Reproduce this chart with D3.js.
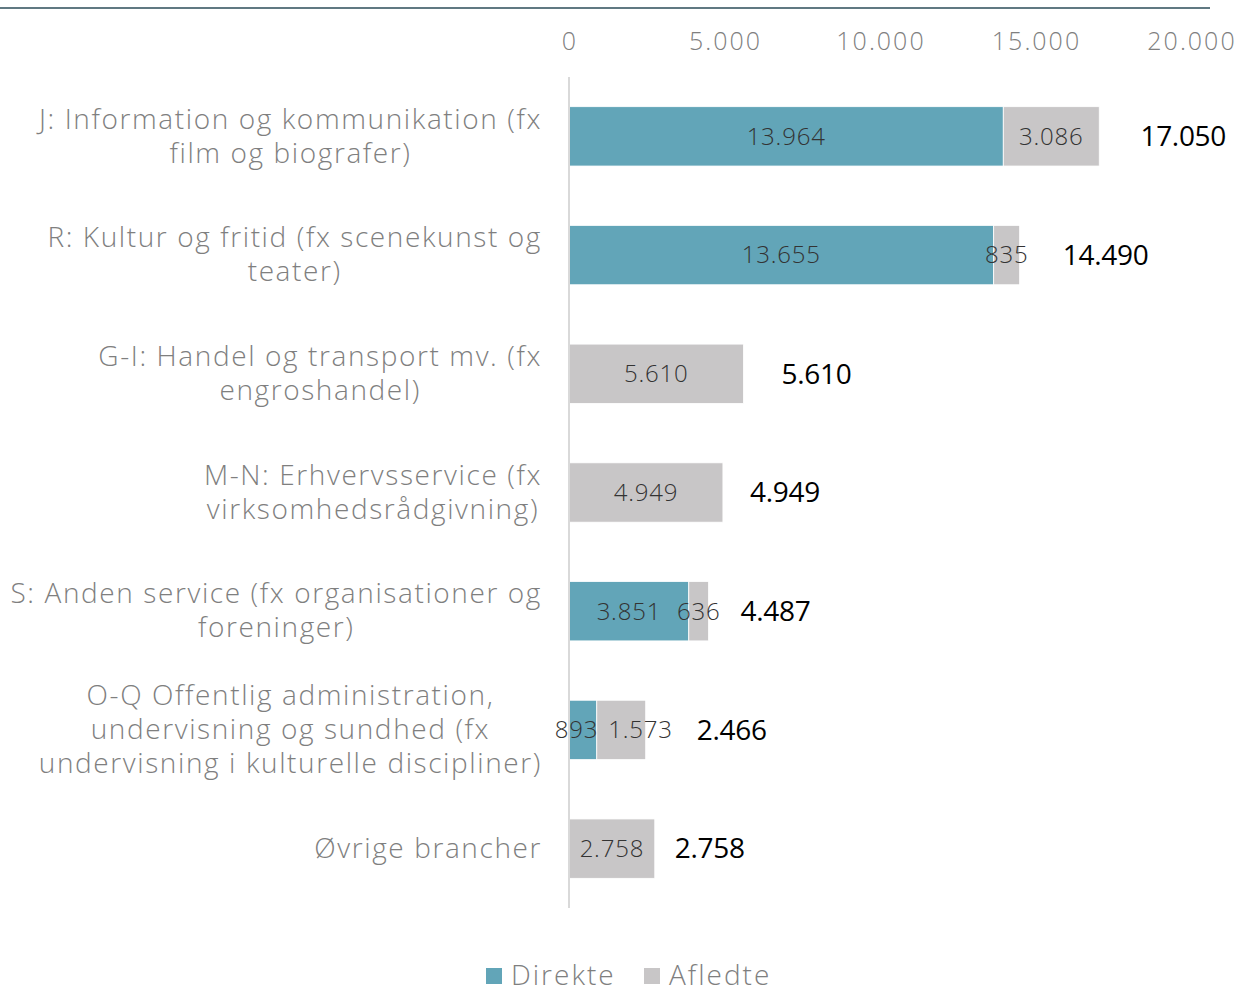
<!DOCTYPE html>
<html>
<head>
<meta charset="utf-8">
<script src="https://cdn.jsdelivr.net/npm/d3@7"></script>
<style>
  body { margin: 0; background: #fff; }
  svg { display: block; font-family: "Open Sans", sans-serif; }
</style>
</head>
<body>
<svg id="chart" width="1239" height="987"></svg>
<script>
// categories, each split into the lines it is written on
const categories = [
    ["J: Information og kommunikation (fx", "film og biografer)"],
    ["R: Kultur og fritid (fx scenekunst og", "teater)"],
    ["G-I: Handel og transport mv. (fx", "engroshandel)"],
    ["M-N: Erhvervsservice (fx", "virksomhedsrådgivning)"],
    ["S: Anden service (fx organisationer og", "foreninger)"],
    ["O-Q Offentlig administration,", "undervisning og sundhed (fx", "undervisning i kulturelle discipliner)"],
    ["Øvrige brancher"]
];
const direkte = [13964, 13655, 0, 0, 3851, 893, 0];
const afledte = [3086, 835, 5610, 4949, 636, 1573, 2758];
const xTicks = [0, 5000, 10000, 15000, 20000];
const seriesNames = ["Direkte", "Afledte"];
const colors = ["#62a5b8", "#c8c6c7"];

// where Excel put the total labels: gap from bar end to label centre
const totalGap = [84, 86, 73, 62, 67, 86, 55];

const fmt = v => d3.format(",")(v).replace(/,/g, ".");

const svg = d3.select("#chart");

const x = d3.scaleLinear().domain([0, 20000]).range([569, 1191]);
const y = d3.scaleBand().domain(d3.range(categories.length)).range([77, 908]).paddingInner(0.5).paddingOuter(0.25);

// top rule (title above is cut off)
svg.append("line")
    .attr("x1", 0).attr("x2", 1210).attr("y1", 8).attr("y2", 8)
    .attr("stroke", "#2b4d58").attr("stroke-width", 1.5);

// axis tick labels
svg.append("g").selectAll("text")
    .data(xTicks)
    .join("text")
    .attr("x", d => x(d) + 1)
    .attr("y", 50)
    .attr("text-anchor", "middle")
    .attr("font-size", 25)
    .attr("font-weight", 300)
    .attr("letter-spacing", 2)
    .attr("fill", "#7f7f7f")
    .text(d => fmt(d));

// stacked rows
const rows = categories.map((c, i) => ({ i: i, d: direkte[i], a: afledte[i], total: direkte[i] + afledte[i] }));

const bars = svg.append("g");
rows.forEach(r => {
    const yTop = y(r.i);
    const h = y.bandwidth();
    const segs = [
        { x0: 0, x1: r.d, v: r.d, c: colors[0] },
        { x0: r.d, x1: r.total, v: r.a, c: colors[1] }
    ].filter(s => s.v > 0);

    segs.forEach(s => {
        bars.append("rect")
            .attr("x", x(s.x0))
            .attr("y", yTop)
            .attr("width", x(s.x1) - x(s.x0))
            .attr("height", h)
            .attr("fill", s.c)
            .attr("stroke", "#fff")
            .attr("stroke-width", 0.8);
    });

    let labels = segs.map(s => bars.append("text")
        .attr("x", (x(s.x0) + x(s.x1)) / 2)
        .attr("y", yTop + h / 2)
        .attr("dy", "0.35em")
        .attr("text-anchor", "middle")
        .attr("font-size", 24)
        .attr("font-weight", 300)
        .attr("letter-spacing", 0.8)
        .attr("fill", "#333")
        .text(fmt(s.v)));

    // push the two segment labels apart when they collide
    if(labels.length === 2) {
        let a = labels[0].node().getBBox();
        let b = labels[1].node().getBBox();
        let overlap = (a.x + a.width + 10) - b.x;
        if(overlap > 0) {
            labels[0].attr("x", +labels[0].attr("x") - overlap * 0.25);
            labels[1].attr("x", +labels[1].attr("x") + overlap * 0.75);
        }
    }

    bars.append("text")
        .attr("x", x(r.total) + totalGap[r.i])
        .attr("y", yTop + h / 2)
        .attr("dy", "0.35em")
        .attr("text-anchor", "middle")
        .attr("font-size", 28)
        .attr("font-weight", 400)
        .attr("letter-spacing", -0.3)
        .attr("fill", "#000")
        .text(fmt(r.total));
});

// vertical axis line
svg.append("line")
    .attr("x1", x(0)).attr("x2", x(0)).attr("y1", 77).attr("y2", 908)
    .attr("stroke", "#d9d9d9").attr("stroke-width", 2);

// category labels: lines centred on each other, block right-aligned
const lineH = 34;
categories.forEach((lines, i) => {
    const g = svg.append("g");
    const cy = y(i) + y.bandwidth() / 2;
    const texts = lines.map((l, k) => g.append("text")
        .attr("y", cy + (k - (lines.length - 1) / 2) * lineH)
        .attr("dy", "0.33em")
        .attr("text-anchor", "middle")
        .attr("font-size", 28)
        .attr("font-weight", 300)
        .attr("letter-spacing", 1.6)
        .attr("fill", "#7f7f7f")
        .text(l));
    const maxW = d3.max(texts, t => t.node().getComputedTextLength());
    texts.forEach(t => t.attr("x", 542 - maxW / 2));
});

// legend
const legend = svg.append("g");
const legendX = [486, 644];
seriesNames.forEach((n, k) => {
    legend.append("rect")
        .attr("x", legendX[k]).attr("y", 968)
        .attr("width", 16).attr("height", 16)
        .attr("fill", colors[k]);
    legend.append("text")
        .attr("x", legendX[k] + 25)
        .attr("y", 975)
        .attr("dy", "0.35em")
        .attr("font-size", 28)
        .attr("font-weight", 300)
        .attr("letter-spacing", 2)
        .attr("fill", "#7f7f7f")
        .text(n);
});
</script>
</body>
</html>
